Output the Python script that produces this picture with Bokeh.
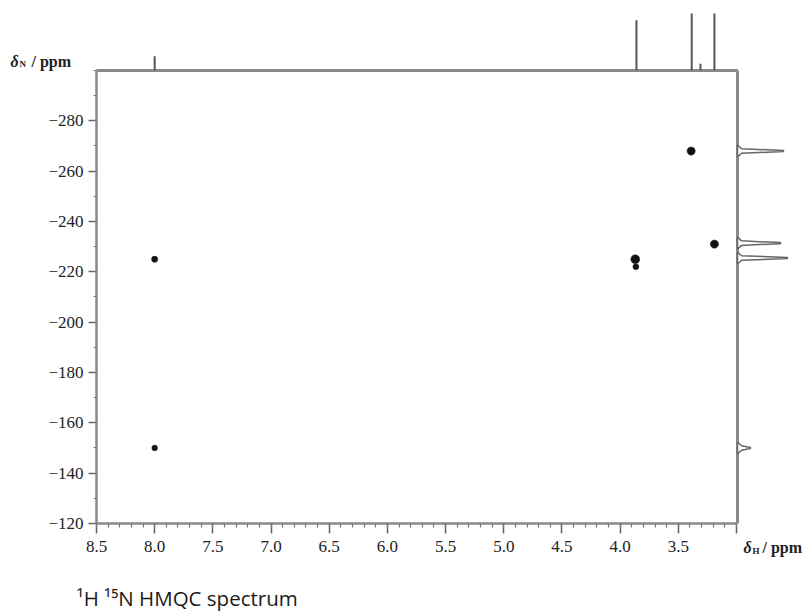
from bokeh.plotting import figure
from bokeh.models import Range1d, FixedTicker, Label, PrintfTickFormatter, ColumnDataSource
from bokeh.embed import file_html
from bokeh.resources import INLINE

# ---------------- data ----------------
# 2D cross peaks (1H ppm, 15N ppm, relative intensity)
cross_h = [8.00, 8.00, 3.87, 3.865, 3.39, 3.19]
cross_n = [-225.0, -150.0, -225.0, -222.0, -268.0, -231.0]
cross_int = [0.45, 0.35, 1.0, 0.4, 0.85, 0.85]

# 1H projection (top): peak positions and relative heights
proj_h_ppm = [8.00, 3.86, 3.385, 3.31, 3.19]
proj_h_int = [0.25, 0.88, 1.00, 0.12, 1.00]

# 15N projection (right): peak positions and relative heights
proj_n_ppm = [-268.0, -231.4, -225.5, -150.0]
proj_n_int = [0.92, 0.86, 1.00, 0.26]

# axis ticks
h_ticks = [8.5, 8.0, 7.5, 7.0, 6.5, 6.0, 5.5, 5.0, 4.5, 4.0, 3.5, 3.0]
h_minor = [round(3.0 + 0.1 * i, 1) for i in range(56)]
n_ticks = [-280, -260, -240, -220, -200, -180, -160, -140, -120]
n_minor = [-300 + 10 * i for i in range(19)]

caption = "\u00b9H \u00b9\u2075N HMQC spectrum"

# ---------------- figure ----------------
H_LEFT, H_RIGHT = 8.5, 3.0
N_BOTTOM, N_TOP = -120, -300

p = figure(width=807, height=612, output_backend="svg", toolbar_location=None,
           x_range=Range1d(9.325, 2.390), y_range=Range1d(-84.64, -327.8),
           min_border=0, min_border_left=0, min_border_right=0,
           min_border_top=0, min_border_bottom=0)
p.extra_y_ranges = {"top": Range1d(-9.509, 1.228)}
p.extra_x_ranges = {"right": Range1d(-14.74, 1.4)}
p.outline_line_color = None
p.xgrid.visible = False
p.ygrid.visible = False
p.background_fill_color = "white"
p.border_fill_color = "white"

AXIS_COL = "#8a8a8a"
TXT_COL = "#222222"
SERIF = "Liberation Serif"

for ax in (p.xaxis[0], p.yaxis[0]):
    ax.axis_line_color = AXIS_COL
    ax.axis_line_width = 2.5
    ax.major_tick_line_color = "#666666"
    ax.minor_tick_line_color = "#777777"
    ax.major_tick_line_width = 1.5
    ax.minor_tick_line_width = 1.2
    ax.major_label_text_font = SERIF
    ax.major_label_text_font_size = "17px"
    ax.major_label_text_color = TXT_COL

xa = p.xaxis[0]
xa.fixed_location = N_BOTTOM
xa.bounds = (H_RIGHT, H_LEFT)
xa.ticker = FixedTicker(ticks=h_ticks, minor_ticks=h_minor)
xa.formatter = PrintfTickFormatter(format="%.1f")
xa.major_label_overrides = {3.0: ""}
xa.major_tick_out = 10
xa.major_tick_in = 0
xa.minor_tick_out = 4
xa.minor_tick_in = 0
xa.major_label_standoff = 7

ya = p.yaxis[0]
ya.fixed_location = H_LEFT
ya.bounds = (N_TOP, N_BOTTOM)
ya.ticker = FixedTicker(ticks=n_ticks, minor_ticks=n_minor)
ya.major_label_overrides = {v: "\u2212%d" % (-v) for v in n_ticks}
ya.major_tick_out = 8
ya.major_tick_in = 0
ya.minor_tick_out = 3
ya.minor_tick_in = 0
ya.major_label_standoff = 5

# ---------------- top 1H projection ----------------
p.segment(x0=[H_LEFT], y0=[0], x1=[H_RIGHT - 0.01], y1=[0], y_range_name="top",
          line_color=AXIS_COL, line_width=3)
p.segment(x0=proj_h_ppm, y0=[0] * len(proj_h_ppm), x1=proj_h_ppm, y1=proj_h_int,
          y_range_name="top", line_color="#555555", line_width=2)

# ---------------- right 15N projection ----------------
p.segment(x0=[0], y0=[N_TOP], x1=[0], y1=[N_BOTTOM], x_range_name="right",
          line_color=AXIS_COL, line_width=3)
fin_xs, fin_ys = [], []
for pos, h in zip(proj_n_ppm, proj_n_int):
    fin_xs.append([0, 0.08, h, h, 0.08, 0])
    fin_ys.append([pos - 2.4, pos - 0.9, pos - 0.2, pos + 0.2, pos + 0.9, pos + 2.4])
p.patches(xs=fin_xs, ys=fin_ys, x_range_name="right", fill_color="white",
          line_color="#666666", line_width=1.5)

# ---------------- cross peaks ----------------
src = ColumnDataSource(dict(x=cross_h, y=cross_n, s=[4 + 5 * v for v in cross_int]))
p.scatter(x="x", y="y", size="s", source=src, fill_color="#111111", line_color="#333333",
          line_width=0.5)

# ---------------- labels ----------------
def lab(x, y, text, dx, dy, size="16px", style="bold", font=SERIF, color=TXT_COL):
    p.add_layout(Label(x=x, y=y, text=text, x_offset=dx, y_offset=dy,
                       text_font=font, text_font_size=size, text_font_style=style,
                       text_color=color, text_baseline="alphabetic", text_align="left"))

# delta_N / ppm (top-left)
lab(H_LEFT, N_TOP, "\u03b4", -86, 9, style="bold italic")
lab(H_LEFT, N_TOP, "N", -77, 6, size="9px")
lab(H_LEFT, N_TOP, "/ ppm", -65, 9)

# delta_H / ppm (bottom-right)
lab(H_RIGHT, N_BOTTOM, "\u03b4", 7, -24, style="bold italic")
lab(H_RIGHT, N_BOTTOM, "H", 16, -27, size="9px")
lab(H_RIGHT, N_BOTTOM, "/ ppm", 26, -24)

# caption
lab(H_LEFT, N_BOTTOM, caption, -20, -74, size="20.5px", style="normal", font="Open Sans",
    color="#1a1a1a")

open("out.html", "w").write(file_html(p, INLINE))
